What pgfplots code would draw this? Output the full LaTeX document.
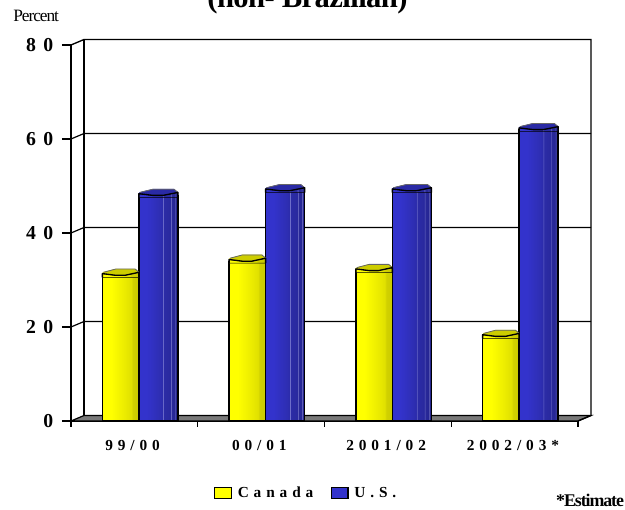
\documentclass[border=0pt]{standalone}
\usepackage{fontspec}
\usepackage{pgfplots}
\pgfplotsset{compat=1.18}
\setmainfont{Liberation Serif}
\newfontfamily\wideserif[LetterSpace=32]{Liberation Serif}
\newfontfamily\widerserif[LetterSpace=38]{Liberation Serif}
\newfontfamily\tightserif[LetterSpace=-6]{Liberation Serif}
\newfontfamily\titleserif[LetterSpace=-2]{Liberation Serif}

\definecolor{canadaface}{RGB}{255,255,0}
\definecolor{usface}{RGB}{51,51,204}
\definecolor{canadatop}{RGB}{205,205,0}
\definecolor{ustop}{RGB}{42,42,165}

% Cylinder sides: stops run from 25bp (left edge) to 75bp (right edge)
\pgfdeclarehorizontalshading{canadacyl}{100bp}{
  rgb(0bp)=(1,1,0); rgb(36bp)=(1,1,0); rgb(52bp)=(.93,.93,0);
  rgb(62bp)=(.88,.88,0); rgb(64bp)=(.82,.82,0); rgb(75bp)=(.78,.78,0); rgb(100bp)=(.78,.78,0)}
\pgfdeclarehorizontalshading{uscyl}{100bp}{
  rgb(0bp)=(.2,.2,.8); rgb(35bp)=(.2,.2,.8); rgb(52bp)=(.18,.18,.70);
  rgb(55.4bp)=(.17,.17,.67); rgb(56.1bp)=(.48,.48,.82); rgb(57bp)=(.17,.17,.65);
  rgb(65.5bp)=(.16,.16,.62); rgb(66.3bp)=(.44,.44,.78); rgb(67.1bp)=(.16,.16,.60);
  rgb(70.9bp)=(.15,.15,.58); rgb(71.7bp)=(.40,.40,.74); rgb(72.5bp)=(.15,.15,.56);
  rgb(75bp)=(.15,.15,.55); rgb(100bp)=(.15,.15,.55)}

% Top of a cylinder, drawn around the data point:
% #1 = offset of the bar's left edge in px, #2 = visible width in px
\newcommand{\cylindertop}[5]{%
  \begin{scope}[x=0.75pt,y=0.75pt,line join=round]
    \path[shading=#3] ({#1},-2) -- ({#1},1.7) -- ({#1+0.36*#2},0) -- ({#1+0.62*#2},0) -- ({#1+#2},3) -- ({#1+#2},-2) -- cycle;
    \fill[#4] ({#1},1.7) -- ({#1+0.36*#2},0) -- ({#1+0.62*#2},0) -- ({#1+#2},3) -- ({#1+0.9*#2},6.2) -- ({#1+0.36*#2},6.2) -- ({#1+1},3) -- cycle;
    \draw[black!60,line width=0.6pt] ({#1+1},3) -- ({#1+0.36*#2},6.2) -- ({#1+0.9*#2},6.2) -- ({#1+#2},3);
    \draw[#5,line width=1pt] ({#1},-2) -- ({#1},1.7) -- ({#1+0.36*#2},0) -- ({#1+0.62*#2},0) -- ({#1+#2},3) -- ({#1+#2},-2);
  \end{scope}}
\pgfdeclareplotmark{canadatopmark}{\cylindertop{-32}{36.5}{canadacyl}{canadatop}{black}}
\pgfdeclareplotmark{ustopmark}{\cylindertop{4.5}{39}{uscyl}{ustop}{black}}

\pgfplotsset{
  canadabar/.style={forget plot, ybar, bar width=29.25pt, bar shift=-9.375pt, shading=canadacyl, draw=black, line width=1pt},
  usbar/.style={forget plot, ybar, bar width=29.25pt, bar shift=18pt, shading=uscyl, draw=black, line width=1pt},
}

\begin{document}
\begin{tikzpicture}
\path[use as bounding box] (0,0) rectangle (468.75pt,382.5pt);
\begin{axis}[
  at={(53.25pt,66.75pt)}, anchor=origin,
  x=95.0625pt, y=3.525pt,
  xmin=0, xmax=4, ymin=0, ymax=80,
  clip=false,
  axis x line*=bottom, axis y line*=left,
  axis line style={line width=1.1pt, -},
  tick style={black, line width=0.9pt},
  tick align=outside,
  xtick={0,1,2,3,4},
  xticklabels={99/00,00/01,2001/02,2002/03*},
  x tick label as interval,
  ytick={0,20,40,60,80},
  xtick style={/pgfplots/major tick length=4.5pt},
  ytick style={/pgfplots/major tick length=6.75pt},
  /pgf/number format/assume math mode=true,
  xticklabel style={font=\wideserif\bfseries\fontsize{11.5}{13}\selectfont, yshift=-6.6pt, xshift=-1.3pt},
  yticklabel style={font=\widerserif\bfseries\fontsize{14.8}{16}\selectfont, xshift=-5.5pt},
  title={\titleserif\bfseries\fontsize{23}{26}\selectfont (non- Brazilian)},
  title style={at={(rel axis cs:0.5,1)}, anchor=base, yshift=22.5pt, xshift=-12.75pt, inner sep=0pt},
  legend style={at={(axis cs:1.13,-15.35)}, anchor=west, draw=none, fill=none, inner sep=0pt, outer sep=0pt,
    legend columns=2, font=\wideserif\bfseries\fontsize{11.5}{13}\selectfont,
    /tikz/every even column/.append style={column sep=11pt}},
  legend cell align=left,
]
% floor, back wall and gridlines
\addplot[forget plot, fill=gray!95!black, draw=black, line width=0.9pt]
  coordinates {(0,0) (4,0) (4.1026,1.17) (0.1026,1.17)} -- cycle;
\addplot[forget plot, black, line width=0.9pt] coordinates {(0,20) (0.1026,21.17) (4.1026,21.17)};
\addplot[forget plot, black, line width=0.9pt] coordinates {(0,40) (0.1026,41.17) (4.1026,41.17)};
\addplot[forget plot, black, line width=0.9pt] coordinates {(0,60) (0.1026,61.17) (4.1026,61.17)};
\addplot[forget plot, black, line width=1pt] coordinates {(0,80) (0.1026,81.17) (4.1026,81.17) (4.1026,1.17) (4,0)};
\addplot[forget plot, black, line width=0.9pt] coordinates {(0.1026,81.17) (0.1026,1.17)};

% Canada and U.S. cylinders, one plot per bar so that each gets its own shading
\addplot[canadabar] coordinates {(0.5,31)};
\addplot[forget plot, only marks, mark=canadatopmark] coordinates {(0.5,31)};
\addplot[usbar] coordinates {(0.5,48)};
\addplot[forget plot, only marks, mark=ustopmark] coordinates {(0.5,48)};
\addplot[canadabar] coordinates {(1.5,34)};
\addplot[forget plot, only marks, mark=canadatopmark] coordinates {(1.5,34)};
\addplot[usbar] coordinates {(1.5,49)};
\addplot[forget plot, only marks, mark=ustopmark] coordinates {(1.5,49)};
\addplot[canadabar] coordinates {(2.5,32)};
\addplot[forget plot, only marks, mark=canadatopmark] coordinates {(2.5,32)};
\addplot[usbar] coordinates {(2.5,49)};
\addplot[forget plot, only marks, mark=ustopmark] coordinates {(2.5,49)};
\addplot[canadabar] coordinates {(3.5,18)};
\addplot[forget plot, only marks, mark=canadatopmark] coordinates {(3.5,18)};
\addplot[usbar] coordinates {(3.5,62)};
\addplot[forget plot, only marks, mark=ustopmark] coordinates {(3.5,62)};

\addlegendimage{legend image code/.code={\draw[black,line width=0.9pt,fill=canadaface] (0pt,-4pt) rectangle (12.5pt,4pt);}}
\addlegendentry{\hspace{2.25pt}Canada}
\addlegendimage{legend image code/.code={\draw[black,line width=0.9pt,fill=usface] (0pt,-4pt) rectangle (12.5pt,4pt);}}
\addlegendentry{\hspace{2.25pt}U.S.}

\node[anchor=base west, inner sep=0pt, font=\tightserif\fontsize{13}{14}\selectfont] at (axis cs:-0.4576,85.1) {Percent};
\node[anchor=base west, inner sep=0pt, font=\tightserif\bfseries\fontsize{13.4}{14}\selectfont] at (axis cs:3.826,-18.2) {*Estimate};
\end{axis}
\end{tikzpicture}
\end{document}
